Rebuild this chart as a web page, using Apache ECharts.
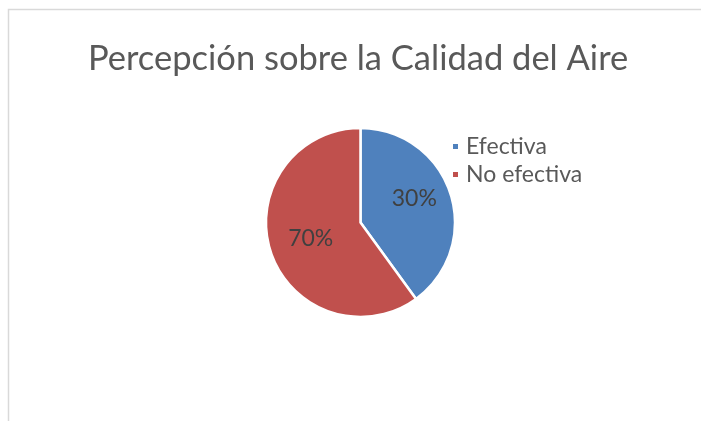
<!DOCTYPE html>
<html>
<head>
<meta charset="utf-8">
<script src="https://cdn.jsdelivr.net/npm/echarts@6/dist/echarts.min.js"></script>
<style>
  html, body { margin: 0; padding: 0; background: #fff; }
  #chart { width: 701px; height: 421px; }
</style>
</head>
<body>
<div id="chart"></div>
<script>
// datos
const categories = ['Efectiva', 'No efectiva'];
const values = [40, 60];              // tamaño de los sectores tal como se dibujan
const labelTexts = ['30%', '70%'];    // etiquetas que muestra el grafico
const colors = ['#4f81bd', '#c0504d'];

const FONT = 'Lato';

let myChart = echarts.init(document.getElementById('chart'));

myChart.setOption({
  animation: false,
  color: colors,
  title: {
    text: 'Percepción sobre la Calidad del Aire',
    left: 88,
    top: 36,
    padding: [5, 0, 5, 0],
    textStyle: {
      fontFamily: FONT,
      fontWeight: 'normal',
      fontSize: 34.5,
      color: '#595959'
    }
  },
  legend: {
    orient: 'vertical',
    left: 451,
    top: 132.5,
    padding: 0,
    itemGap: 0,
    itemWidth: 7,
    itemHeight: 7,
    icon: 'rect',
    data: categories,
    textStyle: {
      fontFamily: FONT,
      fontSize: 23,
      lineHeight: 28,
      color: '#595959',
      padding: [0, 0, 0, 2]
    }
  },
  graphic: [
    {
      type: 'rect',
      shape: { x: 8.5, y: 9.5, width: 720, height: 440 },
      style: { fill: null, stroke: '#d9d9d9', lineWidth: 1.5 },
      silent: true
    }
  ],
  series: [
    {
      type: 'pie',
      center: [360.5, 222.5],
      radius: 94.5,
      startAngle: 90,
      clockwise: true,
      itemStyle: { borderColor: '#fff', borderWidth: 2.5 },
      label: {
        position: 'inside',
        fontFamily: FONT,
        fontSize: 23,
        color: '#404040',
        formatter: p => labelTexts[p.dataIndex]
      },
      labelLine: { show: false },
      emphasis: { disabled: true },
      data: categories.map((c, i) => ({
        name: c,
        value: values[i],
        label: i === 0 ? { offset: [6, -8] } : { offset: [-2, 1] }
      }))
    }
  ]
});
</script>
</body>
</html>
